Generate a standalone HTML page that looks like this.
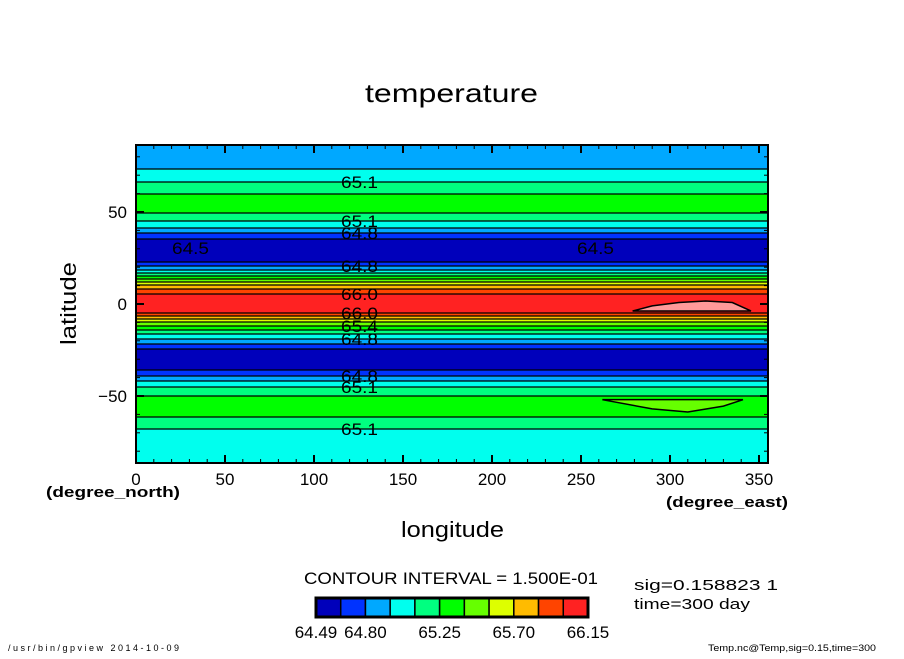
<!DOCTYPE html>
<html><head><meta charset="utf-8"><style>
body{margin:0;background:#fff;}
svg text{font-family:"Liberation Sans",sans-serif;}
</style></head><body>
<svg id="c" width="904" height="654" xmlns="http://www.w3.org/2000/svg">
<rect width="904" height="654" fill="#fff"/>
<g id="plot"></g>
<g id="axes"></g>
<text x="365" y="102" font-size="26" textLength="173" lengthAdjust="spacingAndGlyphs">temperature</text>
<text x="401" y="537" font-size="22" textLength="103" lengthAdjust="spacingAndGlyphs">longitude</text>
<text x="76" y="345" font-size="22" textLength="83" lengthAdjust="spacingAndGlyphs" transform="rotate(-90 76 345)">latitude</text>
<text x="46" y="497" font-size="15" font-weight="bold" textLength="134" lengthAdjust="spacingAndGlyphs">(degree_north)</text>
<text x="666" y="507" font-size="15" font-weight="bold" textLength="122" lengthAdjust="spacingAndGlyphs">(degree_east)</text>
<text x="304" y="584" font-size="17" textLength="294" lengthAdjust="spacingAndGlyphs">CONTOUR INTERVAL = 1.500E-01</text>
<text x="634" y="590" font-size="15" textLength="144" lengthAdjust="spacingAndGlyphs">sig=0.158823 1</text>
<text x="634" y="609" font-size="15" textLength="116" lengthAdjust="spacingAndGlyphs">time=300 day</text>
<text x="8" y="651" font-size="9" textLength="171" lengthAdjust="spacing">/usr/bin/gpview    2014-10-09</text>
<text x="708" y="651" font-size="9" textLength="168" lengthAdjust="spacingAndGlyphs">Temp.nc@Temp,sig=0.15,time=300</text>
<g id="cbar"></g>
</svg>
<script>
const lats=[86.4,73.4,66.3,59.8,55,49.5,45.1,41.3,38.6,35.3,30.4,27.7,25,22.8,20.7,18.5,16.8,15.2,13.6,12,10.3,8.2,5.4,0,-4.9,-6.5,-8.2,-9.8,-12,-14.1,-16.3,-19,-21.7,-24.5,-30.4,-35.9,-39.1,-41.8,-45,-50,-56,-61.4,-68,-86.4];
const temps=[64.85,64.95,65.10,65.25,65.32,65.25,65.10,64.95,64.80,64.65,64.50,64.47,64.50,64.65,64.80,64.95,65.10,65.25,65.40,65.55,65.70,65.85,66.00,66.10,66.00,65.85,65.70,65.55,65.40,65.25,65.10,64.95,64.80,64.65,64.55,64.65,64.80,64.95,65.10,65.25,65.32,65.25,65.10,65.00];
const levels=[64.50,64.65,64.80,64.95,65.10,65.25,65.40,65.55,65.70,65.85,66.00,66.15];
const colors=["#0000BB","#0033FF","#00A8FF","#00FFEE","#00FF80","#00FF00","#66FF00","#DDFF00","#FFBB00","#FF4400","#FF2222","#FF9999"];
const pinkLon=[279,290,305,320,335,345.5,335,315,295,279];
const pinkLat=[-3.8,-1,0.8,1.6,0.8,-3.8,-3.8,-3.8,-3.8,-3.8];
const greenLon=[262,285,305,325,341,330,310,290,262];
const greenLat=[-52,-52,-52,-52,-52,-55.5,-58.7,-57,-52];
const xTicks=[0,50,100,150,200,250,300,350];
const yTicks=[-50,0,50];
const cbLabels=["64.49","64.80","65.25","65.70","66.15"];
const cbLabelIdx=[0,2,5,8,11];

const NS="http://www.w3.org/2000/svg";
const X0=136,X1=768,Y0=145,Y1=463;
const xs=lon=>136+lon*1.78;
const ys=lat=>304-lat*1.84;
function mk(t,a,p){const e=document.createElementNS(NS,t);for(const k in a)e.setAttribute(k,a[k]);p.appendChild(e);return e;}
function tAt(lat){for(let i=0;i<lats.length-1;i++){if(lat<=lats[i]&&lat>=lats[i+1]){const f=(lats[i]-lat)/(lats[i]-lats[i+1]);return temps[i]+f*(temps[i+1]-temps[i]);}}return lat>lats[0]?temps[0]:temps[temps.length-1];}
function cIdx(v){let k=0;for(let i=1;i<levels.length;i++)if(v>=levels[i])k=i;return k;}
const plot=document.getElementById('plot');
let prev=null;
for(let y=Y0;y<Y1;y++){
  const lat=(304-(y+0.5))/1.84;const v=tAt(lat);const k=cIdx(v);
  const r=mk('rect',{x:X0,y:y,width:X1-X0,height:1.2,fill:colors[k]},plot);
  
  
  if(prev!==null&&prev!==k){const l=mk('line',{x1:X0,x2:X1,y1:y,y2:y,stroke:'#000','stroke-width':1.3},plot);
    
    }
  prev=k;
}
function poly(lo,la,fill,name){const p=mk('polygon',{points:lo.map((v,i)=>xs(v)+','+ys(la[i])).join(' '),fill:fill,stroke:'#000','stroke-width':1.5},plot);
  
  }
poly(pinkLon,pinkLat,colors[11],'pink-max-region');
poly(greenLon,greenLat,colors[6],'light-green-region');
const labs=[[65.1,66.3],[65.1,45.1],[64.8,38.6],[64.8,20.7],[66.0,5.4],[66.0,-4.9],[65.4,-12],[64.8,-19],[64.8,-39.1],[65.1,-45],[65.1,-68]];
labs.forEach(([t,la])=>{const y=ys(la);
  const tx=mk('text',{x:341,y:y+6,'font-size':17,textLength:37,lengthAdjust:'spacingAndGlyphs'},plot);tx.textContent=t.toFixed(1);
  
  });
[[172,30.4],[577,30.4]].forEach(([x,la])=>{const tx=mk('text',{x:x,y:ys(la)+6,'font-size':17,textLength:37,lengthAdjust:'spacingAndGlyphs'},plot);tx.textContent='64.5';
  
  });
const ax=document.getElementById('axes');
mk('rect',{x:X0,y:Y0,width:X1-X0,height:Y1-Y0,fill:'none',stroke:'#000','stroke-width':2},ax);
for(let lon=0;lon<=355;lon+=10){const x=xs(lon);const maj=lon%50===0;const L=maj?8:4;
  mk('line',{x1:x,x2:x,y1:Y1,y2:Y1-L,stroke:'#000','stroke-width':maj?2:1},ax);
  mk('line',{x1:x,x2:x,y1:Y0,y2:Y0+L,stroke:'#000','stroke-width':maj?2:1},ax);}
xTicks.forEach(v=>{const t=mk('text',{x:xs(v),y:485,'font-size':17,'text-anchor':'middle'},ax);t.textContent=v;
  
  });
for(let la=-80;la<=80;la+=10){const y=ys(la);const maj=la%50===0;const L=maj?8:4;
  mk('line',{x1:X0,x2:X0+L,y1:y,y2:y,stroke:'#000','stroke-width':maj?2:1},ax);
  mk('line',{x1:X1,x2:X1-L,y1:y,y2:y,stroke:'#000','stroke-width':maj?2:1},ax);}
yTicks.forEach(v=>{const t=mk('text',{x:127,y:ys(v)+6,'font-size':17,'text-anchor':'end'},ax);t.textContent=v===0?'0':(v<0?'\u2212'+(-v):v);
  
  });
const cb=document.getElementById('cbar');const cx0=316,cw=(588-316)/11;
for(let i=0;i<11;i++){const r=mk('rect',{x:cx0+i*cw,y:598,width:cw,height:19,fill:colors[i],stroke:'#000','stroke-width':1.5},cb);
  
  }
mk('rect',{x:cx0,y:598,width:588-cx0,height:19,fill:'none',stroke:'#000','stroke-width':3},cb);
cbLabels.forEach((s,i)=>{const t=mk('text',{x:cx0+cbLabelIdx[i]*cw,y:638,'font-size':17,'text-anchor':'middle'},cb);t.textContent=s;
  
  });
</script>
</body></html>
